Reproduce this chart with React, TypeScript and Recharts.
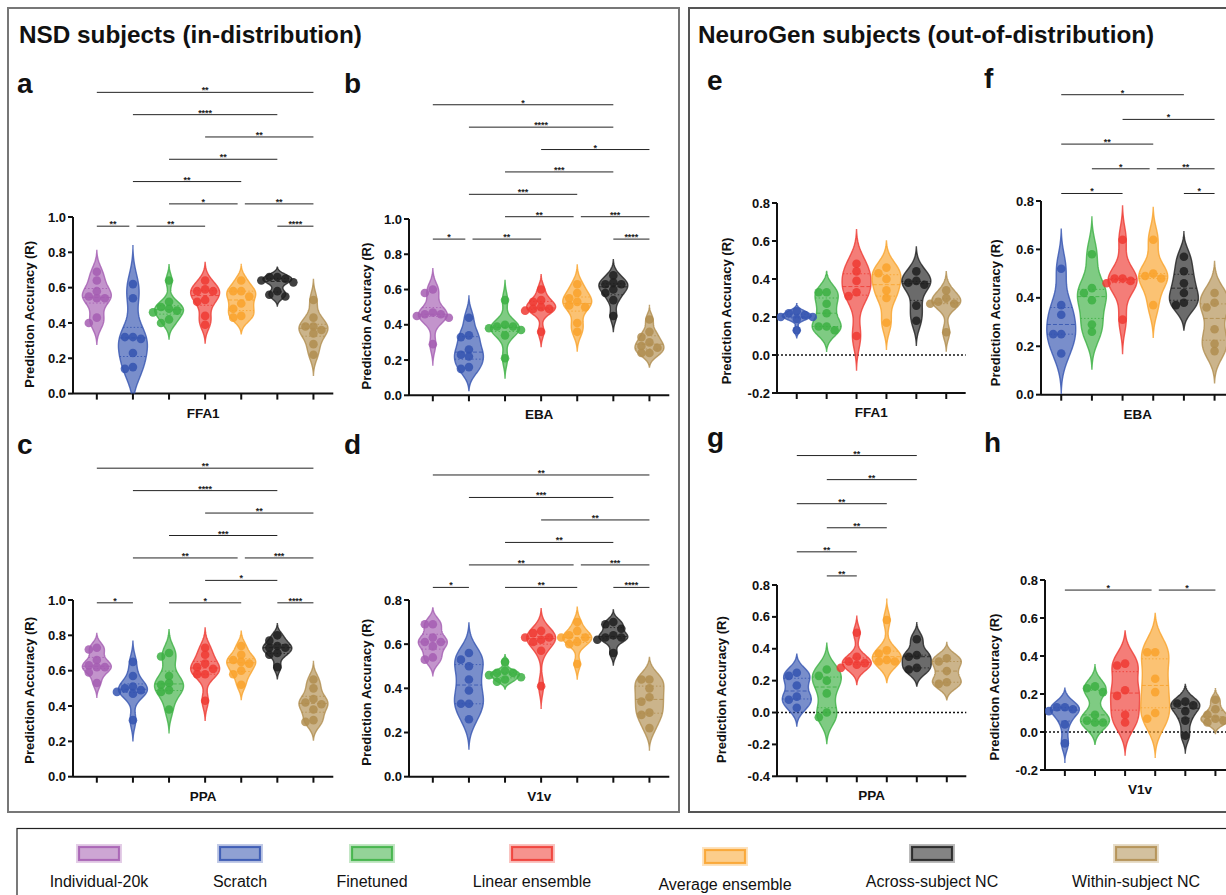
import React from 'react';
import { ComposedChart, XAxis, YAxis, Scatter, ReferenceLine } from 'recharts';

// ---------- categories & styling ----------
const MODELS = [
  'Individual-20k',
  'Scratch',
  'Finetuned',
  'Linear ensemble',
  'Average ensemble',
  'Across-subject NC',
  'Within-subject NC',
];
const COLORS = ['#a45db1', '#3454b0', '#3cb043', '#ee3a32', '#f9a22b', '#1f1f1f', '#b08d4f'];

// ---------- NSD subjects (in-distribution): one list per model ----------
const nsdFFA1 = [
  [0.69, 0.64, 0.58, 0.55, 0.54, 0.54, 0.43, 0.4],
  [0.62, 0.54, 0.32, 0.31, 0.32, 0.23, 0.15, 0.14],
  [0.64, 0.52, 0.49, 0.48, 0.47, 0.46, 0.42, 0.4],
  [0.64, 0.59, 0.58, 0.58, 0.53, 0.52, 0.44, 0.39],
  [0.64, 0.58, 0.58, 0.55, 0.51, 0.48, 0.44, 0.43],
  [0.66, 0.66, 0.65, 0.64, 0.63, 0.58, 0.56, 0.55],
  [0.53, 0.43, 0.38, 0.38, 0.36, 0.34, 0.28, 0.22],
];
const nsdEBA = [
  [0.6, 0.58, 0.47, 0.46, 0.46, 0.45, 0.44, 0.29],
  [0.44, 0.34, 0.33, 0.26, 0.23, 0.22, 0.16, 0.15],
  [0.54, 0.4, 0.39, 0.39, 0.38, 0.37, 0.34, 0.21],
  [0.6, 0.54, 0.53, 0.5, 0.49, 0.49, 0.48, 0.36],
  [0.63, 0.58, 0.55, 0.53, 0.51, 0.5, 0.41, 0.36],
  [0.68, 0.64, 0.63, 0.63, 0.6, 0.58, 0.54, 0.45],
  [0.43, 0.36, 0.33, 0.3, 0.28, 0.27, 0.24, 0.24],
];
const nsdPPA = [
  [0.73, 0.72, 0.66, 0.63, 0.62, 0.62, 0.59, 0.53],
  [0.65, 0.57, 0.51, 0.5, 0.49, 0.48, 0.47, 0.32],
  [0.7, 0.68, 0.57, 0.53, 0.52, 0.49, 0.48, 0.38],
  [0.73, 0.69, 0.64, 0.62, 0.61, 0.58, 0.58, 0.43],
  [0.74, 0.69, 0.66, 0.65, 0.64, 0.6, 0.58, 0.52],
  [0.8, 0.77, 0.74, 0.73, 0.73, 0.7, 0.69, 0.62],
  [0.55, 0.5, 0.44, 0.42, 0.41, 0.38, 0.32, 0.31],
];
const nsdV1v = [
  [0.69, 0.69, 0.63, 0.61, 0.61, 0.59, 0.54, 0.53],
  [0.56, 0.53, 0.5, 0.44, 0.39, 0.33, 0.33, 0.26],
  [0.52, 0.48, 0.47, 0.47, 0.46, 0.45, 0.44, 0.43],
  [0.66, 0.65, 0.63, 0.63, 0.62, 0.61, 0.57, 0.41],
  [0.7, 0.66, 0.64, 0.63, 0.63, 0.61, 0.6, 0.51],
  [0.7, 0.69, 0.67, 0.64, 0.63, 0.63, 0.62, 0.56],
  [0.44, 0.44, 0.4, 0.36, 0.34, 0.29, 0.28, 0.22],
];

// ---------- NeuroGen subjects (out-of-distribution): Scratch .. Within-subject NC ----------
const ngFFA1 = [
  [0.23, 0.22, 0.21, 0.2, 0.2, 0.19, 0.13],
  [0.33, 0.33, 0.27, 0.22, 0.15, 0.15, 0.13],
  [0.48, 0.44, 0.39, 0.33, 0.31, 0.1],
  [0.46, 0.43, 0.4, 0.34, 0.3, 0.17],
  [0.44, 0.39, 0.38, 0.37, 0.26, 0.18],
  [0.34, 0.3, 0.28, 0.27, 0.27, 0.12],
];
const ngEBA = [
  [0.52, 0.37, 0.33, 0.25, 0.25, 0.17],
  [0.58, 0.44, 0.42, 0.39, 0.29, 0.26],
  [0.64, 0.48, 0.48, 0.47, 0.46, 0.31],
  [0.64, 0.5, 0.49, 0.48, 0.37],
  [0.57, 0.51, 0.46, 0.42, 0.38, 0.37],
  [0.42, 0.38, 0.36, 0.27, 0.21, 0.18],
];
const ngPPA = [
  [0.25, 0.23, 0.17, 0.1, 0.08, 0.03],
  [0.27, 0.23, 0.2, 0.12, 0.0, -0.03],
  [0.5, 0.35, 0.32, 0.31, 0.3, 0.28],
  [0.58, 0.39, 0.37, 0.33, 0.32, 0.32],
  [0.46, 0.36, 0.35, 0.28, 0.27],
  [0.34, 0.32, 0.26, 0.19, 0.18],
];
const ngV1v = [
  [0.13, 0.13, 0.12, 0.11, 0.04, -0.06],
  [0.24, 0.23, 0.21, 0.09, 0.06, 0.05, 0.05],
  [0.36, 0.35, 0.22, 0.19, 0.09, 0.05],
  [0.42, 0.42, 0.28, 0.21, 0.1, 0.07],
  [0.16, 0.15, 0.14, 0.11, 0.06, -0.02],
  [0.17, 0.12, 0.09, 0.07, 0.06, 0.05],
];

// ---------- significance brackets: [from, to, row, stars] (1-based category positions) ----------
type Bracket = [number, number, number, string];
const sigFFA1NSD: Bracket[] = [
  [1, 7, 6, '**'], [2, 6, 5, '****'], [4, 7, 4, '**'], [3, 6, 3, '**'], [2, 5, 2, '**'],
  [3, 5, 1, '*'], [5, 7, 1, '**'], [1, 2, 0, '**'], [2, 4, 0, '**'], [6, 7, 0, '****'],
];
const sigEBANSD: Bracket[] = [
  [1, 6, 6, '*'], [2, 6, 5, '****'], [4, 7, 4, '*'], [3, 6, 3, '***'], [2, 5, 2, '***'],
  [3, 5, 1, '**'], [5, 7, 1, '***'], [1, 2, 0, '*'], [2, 4, 0, '**'], [6, 7, 0, '****'],
];
const sigPPANSD: Bracket[] = [
  [1, 7, 6, '**'], [2, 6, 5, '****'], [4, 7, 4, '**'], [3, 6, 3, '***'], [2, 5, 2, '**'],
  [5, 7, 2, '***'], [4, 6, 1, '*'], [1, 2, 0, '*'], [3, 5, 0, '*'], [6, 7, 0, '****'],
];
const sigV1vNSD: Bracket[] = [
  [1, 7, 5, '**'], [2, 6, 4, '***'], [4, 7, 3, '**'], [3, 6, 2, '**'], [2, 5, 1, '**'],
  [5, 7, 1, '***'], [1, 2, 0, '*'], [3, 5, 0, '**'], [6, 7, 0, '****'],
];
const sigFFA1NG: Bracket[] = [];
const sigEBANG: Bracket[] = [
  [1, 5, 4, '*'], [3, 6, 3, '*'], [1, 4, 2, '**'], [2, 4, 1, '*'], [4, 6, 1, '**'],
  [1, 3, 0, '*'], [5, 6, 0, '*'],
];
const sigPPANG: Bracket[] = [
  [1, 5, 5, '**'], [2, 5, 4, '**'], [1, 4, 3, '**'], [2, 4, 2, '**'], [1, 3, 1, '**'], [2, 3, 0, '**'],
];
const sigV1vNG: Bracket[] = [[1, 4, 0, '*'], [4, 6, 0, '*']];

const TICKS_0_1 = [0, 0.2, 0.4, 0.6, 0.8, 1.0];
const TICKS_0_08 = [0, 0.2, 0.4, 0.6, 0.8];
const TICKS_m02_08 = [-0.2, 0, 0.2, 0.4, 0.6, 0.8];
const TICKS_m04_08 = [-0.4, -0.2, 0, 0.2, 0.4, 0.6, 0.8];

const NSD_MODELS = [0, 1, 2, 3, 4, 5, 6];
const NG_MODELS = [1, 2, 3, 4, 5, 6];

interface PanelDef {
  letter: string;
  roi: string;
  models: number[];
  values: number[][];
  brackets: Bracket[];
  yDomain: [number, number];
  yTicks: number[];
  xDomain: [number, number];
  bracketBase: number;
  bracketStep: number;
  zeroLine: boolean;
  plot: { left: number; top: number; width: number; height: number };
  labelGap: number;
  labelShift: number;
  letterPos: [number, number];
}

const PANELS: PanelDef[] = [
  {
    letter: 'a', roi: 'FFA1', models: NSD_MODELS, values: nsdFFA1, brackets: sigFFA1NSD,
    yDomain: [0, 1], yTicks: TICKS_0_1, xDomain: [0.34, 7.55], bracketBase: 0.948, bracketStep: 0.1263,
    zeroLine: false, plot: { left: 72.7, top: 216.7, width: 260.3, height: 176.6 },
    labelGap: 43, labelShift: 9, letterPos: [17, 93],
  },
  {
    letter: 'b', roi: 'EBA', models: NSD_MODELS, values: nsdEBA, brackets: sigEBANSD,
    yDomain: [0, 1], yTicks: TICKS_0_1, xDomain: [0.34, 7.55], bracketBase: 0.886, bracketStep: 0.127,
    zeroLine: false, plot: { left: 409, top: 218.7, width: 260.3, height: 176.3 },
    labelGap: 42, labelShift: 9, letterPos: [344, 93],
  },
  {
    letter: 'c', roi: 'PPA', models: NSD_MODELS, values: nsdPPA, brackets: sigPPANSD,
    yDomain: [0, 1], yTicks: TICKS_0_1, xDomain: [0.34, 7.55], bracketBase: 0.984, bracketStep: 0.127,
    zeroLine: false, plot: { left: 72.7, top: 600, width: 260.3, height: 176.7 },
    labelGap: 43, labelShift: 2, letterPos: [17, 454],
  },
  {
    letter: 'd', roi: 'V1v', models: NSD_MODELS, values: nsdV1v, brackets: sigV1vNSD,
    yDomain: [0, 0.8], yTicks: TICKS_0_08, xDomain: [0.34, 7.55], bracketBase: 0.857, bracketStep: 0.1018,
    zeroLine: false, plot: { left: 409.3, top: 600, width: 260.3, height: 176.7 },
    labelGap: 42, labelShift: 4, letterPos: [344, 454],
  },
  {
    letter: 'e', roi: 'FFA1', models: NG_MODELS, values: ngFFA1, brackets: sigFFA1NG,
    yDomain: [-0.2, 0.8], yTicks: TICKS_m02_08, xDomain: [0.34, 6.65], bracketBase: 0.85, bracketStep: 0.1,
    zeroLine: true, plot: { left: 777.3, top: 202.7, width: 188.7, height: 190 },
    labelGap: 50, labelShift: 13, letterPos: [707, 90],
  },
  {
    letter: 'f', roi: 'EBA', models: NG_MODELS, values: ngEBA, brackets: sigEBANG,
    yDomain: [0, 0.8], yTicks: TICKS_0_08, xDomain: [0.34, 6.65], bracketBase: 0.831, bracketStep: 0.102,
    zeroLine: false, plot: { left: 1041, top: 201.3, width: 193.5, height: 193.7 },
    labelGap: 45, labelShift: 15, letterPos: [984, 88],
  },
  {
    letter: 'g', roi: 'PPA', models: NG_MODELS, values: ngPPA, brackets: sigPPANG,
    yDomain: [-0.4, 0.8], yTicks: TICKS_m04_08, xDomain: [0.34, 6.65], bracketBase: 0.857, bracketStep: 0.151,
    zeroLine: true, plot: { left: 777.3, top: 584.7, width: 189.3, height: 191.3 },
    labelGap: 55, labelShift: 9, letterPos: [707, 447],
  },
  {
    letter: 'h', roi: 'V1v', models: NG_MODELS, values: ngV1v, brackets: sigV1vNG,
    yDomain: [-0.2, 0.8], yTicks: TICKS_m02_08, xDomain: [0.34, 6.65], bracketBase: 0.747, bracketStep: 0.1,
    zeroLine: true, plot: { left: 1045, top: 580, width: 190, height: 190 },
    labelGap: 51, labelShift: 12, letterPos: [984, 452],
  },
];

const FONT = '"Liberation Sans", Arial, Helvetica, sans-serif';
const INK = '#111';

// ---------- violin geometry (kernel density of each group) ----------
function quantile(sorted: number[], p: number) {
  const idx = (sorted.length - 1) * p;
  const lo = Math.floor(idx);
  const hi = Math.ceil(idx);
  return sorted[lo] + (sorted[hi] - sorted[lo]) * (idx - lo);
}

function violinModel(values: number[]) {
  const s = [...values].sort((a, b) => a - b);
  const n = s.length;
  const mean = s.reduce((a, b) => a + b, 0) / n;
  const sd = Math.sqrt(s.reduce((a, b) => a + (b - mean) ** 2, 0) / (n - 1));
  const h = Math.max(0.75 * sd * Math.pow(n, -0.2), 0.012);
  const lo = s[0] - 2.6 * h;
  const hi = s[n - 1] + 2.6 * h;
  const dens = (y: number) => s.reduce((acc, v) => acc + Math.exp(-0.5 * ((y - v) / h) ** 2), 0);
  const steps = 100;
  const ys = Array.from({ length: steps + 1 }, (_, i) => lo + ((hi - lo) * i) / steps);
  const ds = ys.map(dens);
  const dEnd = Math.max(ds[0], ds[steps]);
  const dMax = Math.max(...ds);
  const widthAt = (y: number) => Math.max(0, (dens(y) - dEnd) / (dMax - dEnd));
  return {
    ys,
    widths: ys.map(widthAt),
    widthAt,
    q1: quantile(s, 0.25),
    med: quantile(s, 0.5),
    q3: quantile(s, 0.75),
  };
}

function outline(pos: number, halfWidth: number, m: ReturnType<typeof violinModel>) {
  const right = m.ys.map((y, i) => ({ x: pos + halfWidth * m.widths[i], y }));
  const left = m.ys.map((y, i) => ({ x: pos - halfWidth * m.widths[i], y })).reverse();
  return [...right, ...left];
}

// simple swarm: spread dots sideways when they would overlap
function swarm(values: number[], pos: number, dx: number, dy: number) {
  const placed: { x: number; y: number }[] = [];
  const sorted = [...values].sort((a, b) => b - a);
  const offsets = [0, -1, 1, -2, 2, -3, 3];
  for (const v of sorted) {
    for (const o of offsets) {
      const x = pos + o * dx;
      if (placed.every((p) => Math.abs(p.y - v) >= dy || Math.abs(p.x - x) >= dx * 0.99)) {
        placed.push({ x, y: v });
        break;
      }
    }
  }
  return placed;
}

const Empty = () => <g />;

function ViolinPanel({ panel }: { panel: PanelDef }) {
  const { plot, yDomain, xDomain } = panel;
  const yAxisW = 66;
  const mTop = 145;
  const xAxisH = 26;
  const mBottom = 6;
  const mRight = 4;
  const width = yAxisW + plot.width + mRight;
  const height = mTop + plot.height + xAxisH + mBottom;
  const pxPerY = plot.height / (yDomain[1] - yDomain[0]);
  const pxPerX = plot.width / (xDomain[1] - xDomain[0]);
  const positions = panel.models.map((_, i) => i + 1);
  const halfW = 14.5 / pxPerX;
  const dotDx = 8 / pxPerX;
  const dotDy = 7 / pxPerY;
  const gap = 3.6 / pxPerX;

  const groups = panel.models.map((mi, i) => {
    const m = violinModel(panel.values[i]);
    return { mi, pos: i + 1, color: COLORS[mi], model: m, values: panel.values[i] };
  });

  const bracketLines = panel.brackets.map(([a, b, row, stars], k) => {
    const sameRow = panel.brackets.filter((br) => br[2] === row);
    const startShared = sameRow.some((br) => br[1] === a);
    const endShared = sameRow.some((br) => br[0] === b);
    const x1 = a + (startShared ? gap : 0);
    const x2 = b - (endShared ? gap : 0);
    const yv = panel.bracketBase + row * panel.bracketStep;
    return { key: `br-${k}`, x1, x2, yv, stars };
  });

  const yLabel = (lp: any) => {
    const vb = lp.viewBox || {};
    const cx = (vb.x ?? 0) + yAxisW - panel.labelGap;
    const cy = (vb.y ?? 0) + (vb.height ?? 0) / 2 + panel.labelShift;
    return (
      <text
        x={cx}
        y={cy}
        transform={`rotate(-90, ${cx}, ${cy})`}
        textAnchor="middle"
        dominantBaseline="central"
        fontSize={13}
        fontWeight={700}
        fill={INK}
        fontFamily={FONT}
      >
        Prediction Accuracy (R)
      </text>
    );
  };

  return (
    <div style={{ position: 'absolute', left: plot.left - yAxisW, top: plot.top - mTop }}>
      <ComposedChart
        width={width}
        height={height}
        margin={{ top: mTop, right: mRight, bottom: mBottom, left: 0 }}
      >
        <XAxis
          type="number"
          dataKey="x"
          domain={xDomain}
          ticks={positions}
          allowDataOverflow
          interval={0}
          tickFormatter={() => ''}
          tickSize={6}
          height={xAxisH}
          axisLine={{ stroke: INK, strokeWidth: 2 }}
          tickLine={{ stroke: INK, strokeWidth: 2 }}
          label={{
            value: panel.roi,
            position: 'insideBottom',
            offset: 2,
            style: { fontSize: 13.5, fontWeight: 700, fill: INK, fontFamily: FONT },
          }}
        />
        <YAxis
          type="number"
          dataKey="y"
          domain={yDomain}
          ticks={panel.yTicks}
          interval={0}
          allowDataOverflow
          width={yAxisW}
          tickSize={5}
          tickFormatter={(v: number) => v.toFixed(1)}
          tick={{ fontSize: 13, fontWeight: 700, fill: INK, fontFamily: FONT }}
          axisLine={{ stroke: INK, strokeWidth: 2 }}
          tickLine={{ stroke: INK, strokeWidth: 2 }}
          label={yLabel}
        />

        {panel.zeroLine && (
          <ReferenceLine y={0} stroke={INK} strokeWidth={1.5} strokeDasharray="2 2" />
        )}

        {groups.map((g) => (
          <Scatter
            key={`violin-${g.mi}`}
            data={outline(g.pos, halfW, g.model)}
            shape={Empty}
            isAnimationActive={false}
            line={{
              fill: g.color,
              fillOpacity: 0.66,
              stroke: g.color,
              strokeOpacity: 0.8,
              strokeWidth: 1.4,
            }}
            lineType="joint"
            lineJointType="linear"
          />
        ))}

        {groups.flatMap((g) =>
          [
            { q: g.model.q1, dash: '1.5 2' },
            { q: g.model.med, dash: '4 2' },
            { q: g.model.q3, dash: '1.5 2' },
          ].map((l, j) => {
            const w = halfW * g.model.widthAt(l.q);
            return (
              <ReferenceLine
                key={`q-${g.mi}-${j}`}
                segment={[
                  { x: g.pos - w, y: l.q },
                  { x: g.pos + w, y: l.q },
                ]}
                stroke={g.color}
                strokeOpacity={0.85}
                strokeWidth={1}
                strokeDasharray={l.dash}
              />
            );
          }),
        )}

        {groups.map((g) => (
          <Scatter
            key={`dots-${g.mi}`}
            data={swarm(g.values, g.pos, dotDx, dotDy)}
            isAnimationActive={false}
            shape={(p: any) => <circle cx={p.cx} cy={p.cy} r={4.3} fill={g.color} fillOpacity={0.85} />}
          />
        ))}

        {bracketLines.map((b) => (
          <ReferenceLine
            key={b.key}
            segment={[
              { x: b.x1, y: b.yv },
              { x: b.x2, y: b.yv },
            ]}
            ifOverflow="visible"
            stroke="#222"
            strokeWidth={1}
            label={(lp: any) => {
              const vb = lp.viewBox || {};
              return (
                <text
                  x={(vb.x ?? 0) + (vb.width ?? 0) / 2}
                  y={(vb.y ?? 0) + 1}
                  textAnchor="middle"
                  fontSize={9}
                  fontWeight={700}
                  fill="#222"
                  fontFamily={FONT}
                >
                  {b.stars}
                </text>
              );
            }}
          />
        ))}
      </ComposedChart>
    </div>
  );
}

// ---------- legend ----------
const LEGEND_CX = [99, 240, 372, 532, 725, 932, 1136];
const LEGEND_DY = [0, 0, 0, 0, 3, 0, 0];

function Legend() {
  return (
    <g>
      <rect x={17} y={828.5} width={1260} height={120} fill="none" stroke="#222" strokeWidth={1.2} />
      {MODELS.map((name, i) => {
        const cx = LEGEND_CX[i];
        const top = 844 + LEGEND_DY[i];
        const c = COLORS[i];
        return (
          <g key={name}>
            <rect x={cx - 23} y={top} width={46} height={19} fill={c} fillOpacity={0.3} />
            <rect
              x={cx - 20}
              y={top + 3}
              width={40}
              height={13}
              fill={c}
              fillOpacity={0.35}
              stroke={c}
              strokeOpacity={0.85}
              strokeWidth={2.2}
            />
            <text
              x={cx}
              y={887 + LEGEND_DY[i]}
              textAnchor="middle"
              fontSize={16}
              fill="#111"
              fontFamily={FONT}
            >
              {name}
            </text>
          </g>
        );
      })}
    </g>
  );
}

export default function App() {
  return (
    <div
      style={{
        position: 'fixed',
        left: 0,
        top: 0,
        width: 1226,
        height: 895,
        overflow: 'hidden',
        background: '#fff',
        fontFamily: FONT,
      }}
    >
      <svg width={1226} height={895} style={{ position: 'absolute', left: 0, top: 0 }}>
        <rect x={8} y={8} width={671} height={804} fill="none" stroke="#777" strokeWidth={2} />
        <rect x={689} y={8} width={620} height={804} fill="none" stroke="#555" strokeWidth={2} />
        <text x={19} y={43} fontSize={24.3} fontWeight={700} fill={INK} fontFamily={FONT}>
          NSD subjects (in-distribution)
        </text>
        <text x={698} y={43} fontSize={24.3} fontWeight={700} fill={INK} fontFamily={FONT}>
          NeuroGen subjects (out-of-distribution)
        </text>
        {PANELS.map((p) => (
          <text
            key={p.letter}
            x={p.letterPos[0]}
            y={p.letterPos[1]}
            fontSize={28}
            fontWeight={700}
            fill={INK}
            fontFamily={FONT}
          >
            {p.letter}
          </text>
        ))}
        <Legend />
      </svg>
      {PANELS.map((p) => (
        <ViolinPanel key={p.letter} panel={p} />
      ))}
    </div>
  );
}
